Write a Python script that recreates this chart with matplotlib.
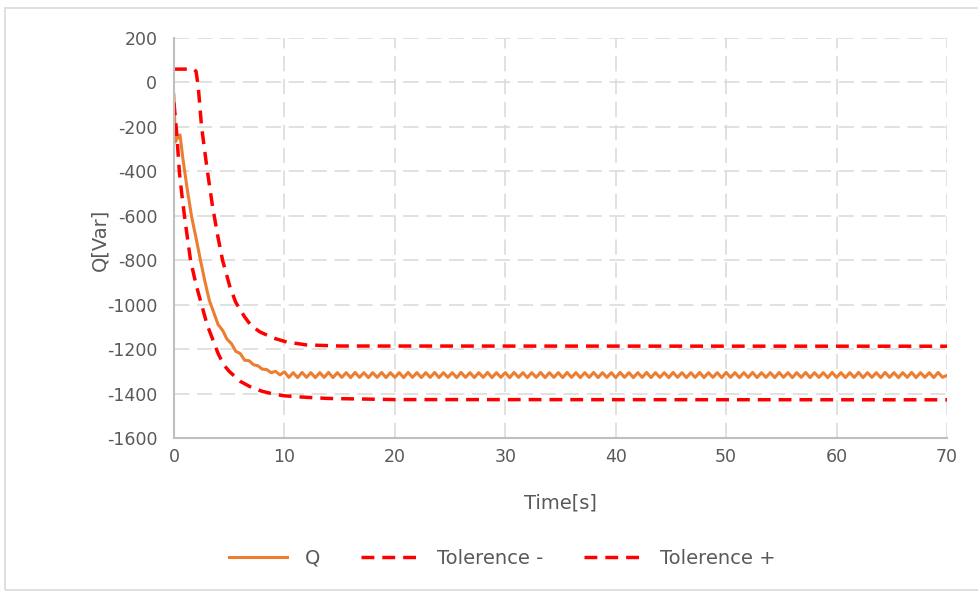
import numpy as np
import matplotlib.pyplot as plt
from matplotlib.patches import Rectangle

plt.rcParams['axes.unicode_minus'] = False

# Q curve: transient part read point by point, then the steady oscillation
t_start = [0, 0.12, 0.4, 0.55, 0.8, 1.2, 1.6, 2.0, 2.4, 2.8, 3.2, 3.6, 4.0, 4.4,
           4.8, 5.2, 5.6, 6.0, 6.4, 6.8, 7.2, 7.6, 8.0, 8.4, 8.8, 9.2, 9.6, 10.0]
q_start = [-56, -268, -245, -236, -340, -480, -605, -700, -800, -895, -980, -1035,
           -1090, -1115, -1155, -1175, -1210, -1220, -1250, -1252, -1270, -1275,
           -1290, -1292, -1306, -1300, -1316, -1302]
t_steady = np.round(np.arange(10.4, 70.01, 0.4), 1)
q_steady = [
    -1327, -1306, -1328, -1305, -1327, -1306, -1328, -1306, -1327, -1305, -1328, -1306, -1327, -1306, -1328, -1305, -1327, -1306, -1328, -1306,
    -1327, -1305, -1328, -1306, -1327, -1306, -1328, -1305, -1327, -1306, -1328, -1306, -1327, -1305, -1328, -1306, -1327, -1306, -1328, -1305,
    -1327, -1306, -1328, -1306, -1327, -1305, -1328, -1306, -1327, -1306, -1328, -1305, -1327, -1306, -1328, -1306, -1327, -1305, -1328, -1306,
    -1327, -1306, -1328, -1305, -1327, -1306, -1328, -1306, -1327, -1305, -1328, -1306, -1327, -1306, -1328, -1305, -1327, -1306, -1328, -1306,
    -1327, -1305, -1328, -1306, -1327, -1306, -1328, -1305, -1327, -1306, -1328, -1306, -1327, -1305, -1328, -1306, -1327, -1306, -1328, -1305,
    -1327, -1306, -1328, -1306, -1327, -1305, -1328, -1306, -1327, -1306, -1328, -1305, -1327, -1306, -1328, -1306, -1327, -1305, -1328, -1306,
    -1327, -1306, -1328, -1305, -1327, -1306, -1328, -1306, -1327, -1305, -1328, -1306, -1327, -1306, -1328, -1305, -1327, -1306, -1328, -1306,
    -1327, -1305, -1328, -1306, -1327, -1306, -1328, -1305, -1327, -1318,
]
t_q = np.concatenate([t_start, t_steady])
q = np.concatenate([q_start, q_steady[:len(t_steady)]])

# tolerance bands
t_low = [0, 0.25, 0.5, 0.75, 1.0, 1.5, 2.0, 2.5, 3.0, 3.5, 4.0, 4.5, 5.0, 6.0, 7.0,
         8.0, 9.0, 10.0, 12.0, 14.0, 20.0, 70.0]
q_low = [-90, -230, -410, -520, -620, -800, -910, -1000, -1090, -1155, -1220, -1270,
         -1300, -1345, -1372, -1390, -1402, -1410, -1417, -1422, -1427, -1428]
t_up = [0, 1.8, 2.0, 2.2, 2.5, 3.0, 3.5, 4.0, 4.4, 5.07, 5.6, 6.4, 7.0, 7.8, 9.0,
        10.2, 12.0, 15.0, 70.0]
q_up = [60, 60, 50, -20, -200, -390, -560, -700, -800, -920, -990, -1055, -1095,
        -1123, -1150, -1168, -1181, -1186, -1187]

txt = '#595959'
fig = plt.figure(figsize=(9.79, 5.92), dpi=100)
fig.patches.append(Rectangle((0.005, 0.003), 1.0, 0.983, transform=fig.transFigure,
                             fill=False, edgecolor='#d9d9d9', lw=1.2))
ax = fig.add_axes([0.1777, 0.2601, 0.7896, 0.6757])

ax.plot(t_q, q, color='#ED7D31', lw=2.2, label='Q', solid_joinstyle='round')
ax.plot(t_low, q_low, color='#FF0000', lw=2.5, dashes=(3.7, 2.3), label='Tolerence -')
ax.plot(t_up, q_up, color='#FF0000', lw=2.5, dashes=(3.7, 2.3), label='Tolerence +')

ax.set_xlim(0, 70)
ax.set_ylim(-1600, 200)
ax.set_xticks(range(0, 71, 10))
ax.set_yticks(range(-1600, 201, 200))
ax.grid(True, color='#d9d9d9', lw=1.1, linestyle=(0, (10, 5)))
ax.set_axisbelow(True)
for s in ['top', 'right']:
    ax.spines[s].set_visible(False)
for s in ['left', 'bottom']:
    ax.spines[s].set_color('#bfbfbf')
    ax.spines[s].set_linewidth(1.5)
ax.tick_params(length=0, labelsize=12.5, labelcolor=txt)
ax.tick_params(axis='y', pad=12)
ax.tick_params(axis='x', pad=7)
ax.set_xlabel('Time[s]', fontsize=14, color=txt)
ax.set_ylabel('Q[Var]', fontsize=14, color=txt)
ax.xaxis.set_label_coords(0.5, -0.138)
ax.yaxis.set_label_coords(-0.084, 0.495)

fig.legend(loc='center', bbox_to_anchor=(0.513, 0.057), ncol=3, frameon=False,
           fontsize=14, labelcolor=txt, handlelength=3.0, columnspacing=2.1,
           handletextpad=0.9)

fig.savefig('out.png', dpi=100)
